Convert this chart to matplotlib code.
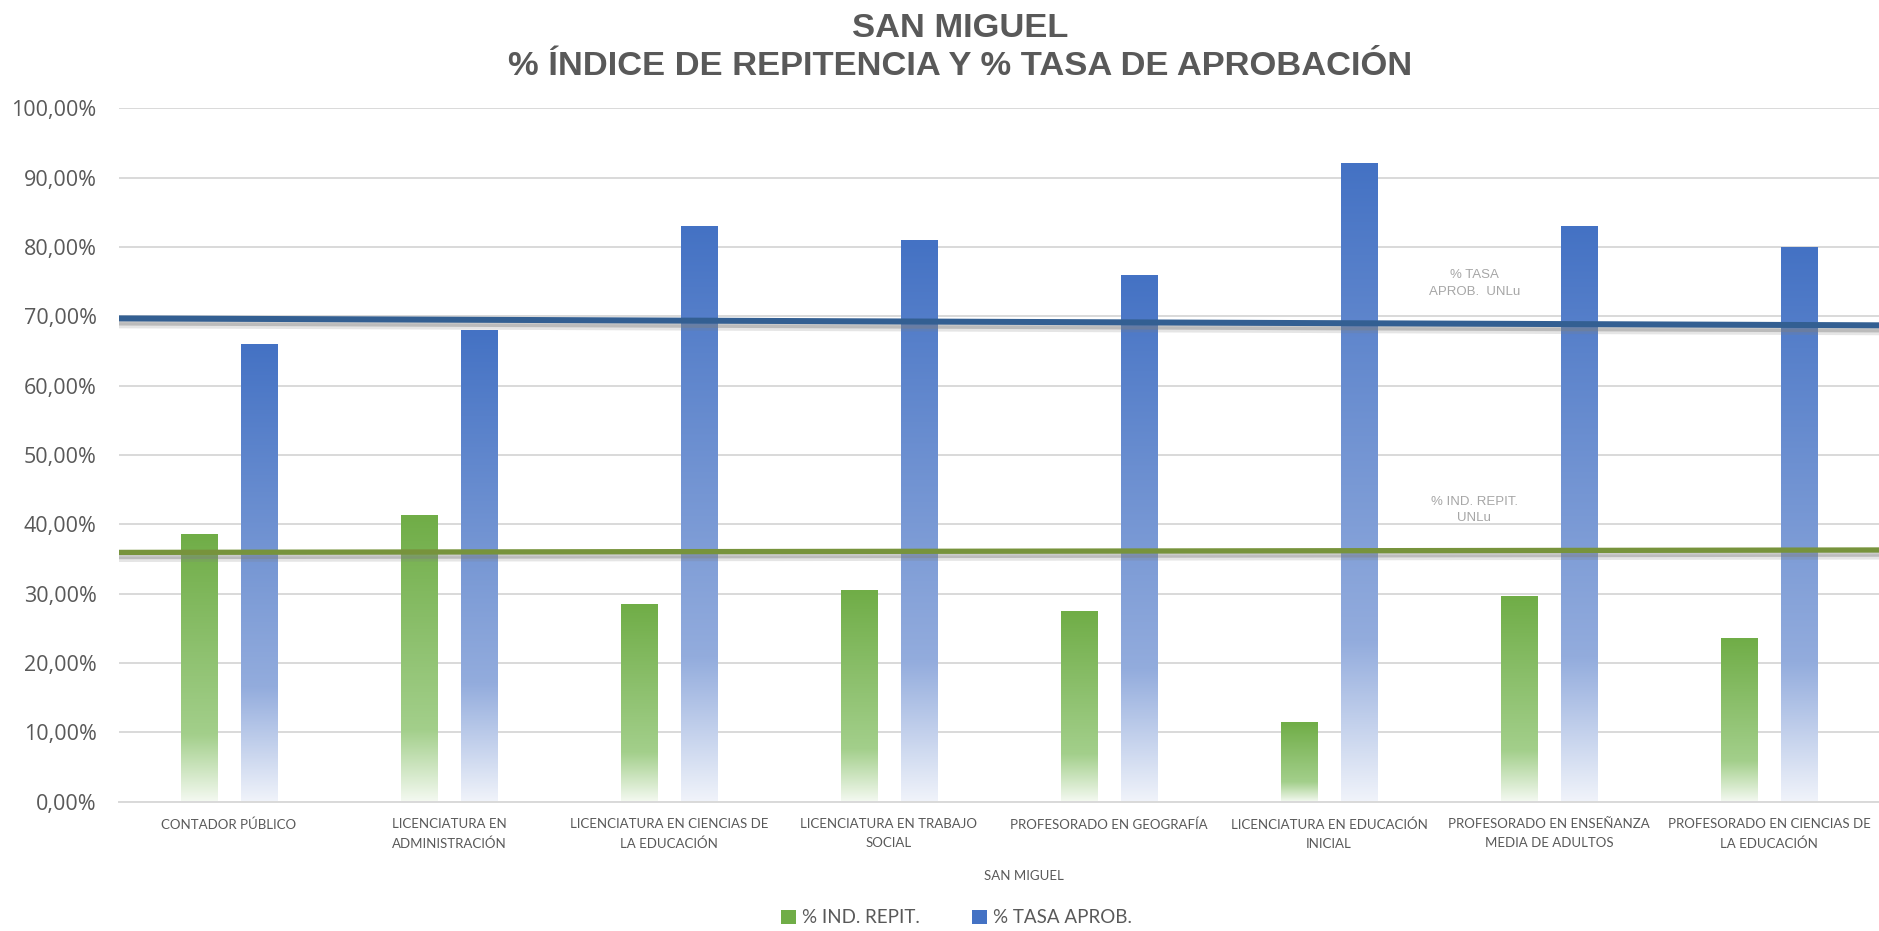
import numpy as np
import matplotlib
matplotlib.use("Agg")
import matplotlib.pyplot as plt
import matplotlib.patheffects as pe
from matplotlib.colors import to_rgb
from matplotlib.patches import Patch

# datos
carreras = [
    "CONTADOR PÚBLICO",
    "LICENCIATURA EN\nADMINISTRACIÓN",
    "LICENCIATURA EN CIENCIAS DE\nLA EDUCACIÓN",
    "LICENCIATURA EN TRABAJO\nSOCIAL",
    "PROFESORADO EN GEOGRAFÍA",
    "LICENCIATURA EN EDUCACIÓN\nINICIAL",
    "PROFESORADO EN ENSEÑANZA\nMEDIA DE ADULTOS",
    "PROFESORADO EN CIENCIAS DE\nLA EDUCACIÓN",
]
ind_repit = [38.6, 41.3, 28.5, 30.5, 27.5, 11.4, 29.7, 23.6]
tasa_aprob = [66.0, 68.0, 83.0, 81.0, 76.0, 92.1, 83.0, 80.0]
# lineas de referencia UNLu (extremo izquierdo, extremo derecho)
unlu_aprob = [69.7, 68.7]
unlu_repit = [35.95, 36.3]
yticks = [0, 10, 20, 30, 40, 50, 60, 70, 80, 90, 100]

TXT = "#595959"
GRID = "#D9D9D9"
NARROW = ["Lato", "DejaVu Sans"]


def grad_bar(ax, xc, h, w, top, mid, bottom):
    """barra con degradado vertical (estilo Excel)"""
    t = np.linspace(0, 1, 200)
    cols = [to_rgb(bottom), to_rgb(mid), to_rgb(top)]
    img = np.zeros((len(t), 1, 3))
    for k in range(3):
        img[:, 0, k] = np.interp(t, [0, 0.25, 1], [c[k] for c in cols])
    ax.imshow(img, extent=(xc - w / 2, xc + w / 2, 0, h), origin="lower",
              aspect="auto", interpolation="bilinear", zorder=2)


fig = plt.figure(figsize=(18.79, 9.31), dpi=100)
ax = fig.add_axes([0.0633, 0.1389, 0.9367, 0.7448])

x = np.arange(len(carreras))
w = 0.164
off = 0.136
for i in range(len(carreras)):
    grad_bar(ax, x[i] - off, ind_repit[i], w, "#70AD47", "#A3CF8B", "#F4F9F1")
    grad_bar(ax, x[i] + off, tasa_aprob[i], w, "#4472C4", "#93ACDD", "#F0F3FA")

# lineas UNLu
xe = [-0.5, len(carreras) - 0.5]
shadow = [pe.SimpleLineShadow(offset=(0, -3), shadow_color="#7F7F7F", alpha=0.4),
          pe.SimpleLineShadow(offset=(0, -5), shadow_color="#7F7F7F", alpha=0.2),
          pe.Normal()]
ax.plot(xe, unlu_aprob, color="#335F92", lw=4.3, zorder=5, path_effects=shadow,
        solid_capstyle="butt")
ax.plot(xe, unlu_repit, color="#77933C", lw=3.8, zorder=5, path_effects=shadow,
        solid_capstyle="butt")
ax.text(5.66, 74.7, "% TASA\nAPROB.  UNLu", ha="center", va="center",
        fontsize=9.5, color="#A6A6A6", family="Liberation Sans", linespacing=1.5)
ax.text(5.66, 42.1, "% IND. REPIT.\nUNLu", ha="center", va="center",
        fontsize=9.5, color="#A6A6A6", family="Liberation Sans", linespacing=1.5)

ax.set_xlim(-0.5, len(carreras) - 0.5)
ax.set_ylim(0, 100)
ax.set_yticks(yticks)
ax.set_yticklabels([f"{v:.2f}%".replace(".", ",") for v in yticks],
                   fontsize=15.5, color=TXT, family="Open Sans")
ax.set_xticks(x)
ax.set_xticklabels(carreras, fontsize=9.5, color=TXT, family=NARROW,
                   linespacing=1.7)
ax.tick_params(axis="both", length=0)
ax.tick_params(axis="x", pad=12)
ax.tick_params(axis="y", pad=16)
ax.grid(axis="y", color=GRID, lw=1.4, zorder=0)
ax.set_axisbelow(True)
for s in ["top", "right", "left"]:
    ax.spines[s].set_visible(False)
ax.spines["bottom"].set_color(GRID)
ax.spines["bottom"].set_linewidth(1.4)

ax.set_xlabel("SAN MIGUEL", fontsize=9.5, color=TXT, family=NARROW)
ax.xaxis.set_label_coords(0.514, -0.098)

fig.text(0.511, 0.986, "SAN MIGUEL\n% ÍNDICE DE REPITENCIA Y % TASA DE APROBACIÓN",
         ha="center", va="top", fontsize=24.8, fontweight="bold", color=TXT,
         family="Liberation Sans", linespacing=1.28)

handles = [Patch(facecolor="#70AD47", label="% IND. REPIT."),
           Patch(facecolor="#4472C4", label="% TASA APROB.")]
fig.legend(handles=handles, loc="center", bbox_to_anchor=(0.509, 0.014),
           ncol=2, frameon=False, handlelength=0.8, handleheight=0.8,
           handletextpad=0.3, columnspacing=2.8,
           prop={"family": NARROW, "size": 13.5}, labelcolor=TXT)

fig.savefig("out.png", dpi=100)
